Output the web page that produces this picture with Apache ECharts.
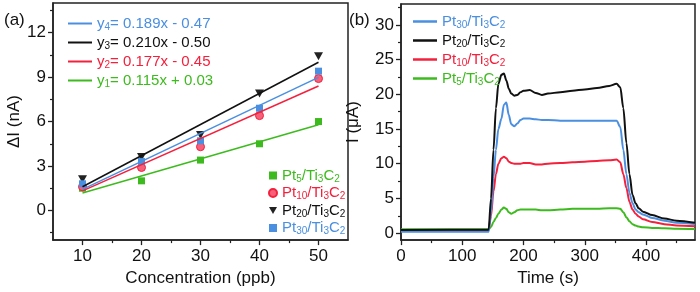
<!DOCTYPE html>
<html><head><meta charset="utf-8">
<script src="https://cdn.jsdelivr.net/npm/echarts@6/dist/echarts.min.js"></script>
<style>html,body{margin:0;padding:0;background:#fff}#c{width:700px;height:292px}</style>
</head><body><div id="c"></div>
<script>
// ---- Panel (a) data ----
var concentration = [10, 20, 30, 40, 50];
var pt5 = [1.5, 2.0, 3.4, 4.5, 6.0];
var pt10 = [1.6, 2.9, 4.3, 6.4, 8.9];
var pt20 = [2.1, 3.6, 5.1, 7.9, 10.4];
var pt30 = [1.8, 3.3, 4.7, 6.9, 9.4];
var fitX = [10, 50];
var fit5 = [1.18, 5.78];
var fit10 = [1.32, 8.40];
var fit20 = [1.60, 10.00];
var fit30 = [1.42, 8.98];
var equations = {
  fit30: ['4', '= 0.189x - 0.47'],
  fit20: ['3', '= 0.210x - 0.50'],
  fit10: ['2', '= 0.177x - 0.45'],
  fit5: ['1', '= 0.115x + 0.03']
};
var xTicksA = [10, 20, 30, 40, 50];
var xMinorA = [15, 25, 35, 45];
var yTicksA = [0, 3, 6, 9, 12];
var yMinorA = [-1.5, 1.5, 4.5, 7.5, 10.5, 13.5];

// ---- Panel (b) data ----
var time = [0, 143, 147, 151, 155, 159, 164, 168, 172, 176, 180, 185, 190, 195, 200, 210, 220, 230, 240, 260, 280, 300, 320, 340, 352, 358, 363, 368, 373, 378, 383, 388, 395, 410, 430, 450, 480];
var iPt20 = [0.45, 0.5, 5, 12, 18, 21.5, 22.8, 23.0, 22.0, 20.8, 20.1, 19.8, 19.9, 20.3, 20.5, 20.6, 20.2, 19.9, 20.1, 20.3, 20.5, 20.7, 20.9, 21.2, 21.5, 21.0, 18, 13, 8.5, 5.5, 4.3, 3.6, 3.1, 2.6, 2.1, 1.8, 1.5];
var iPt30 = [0.2, 0.2, 3, 8, 12, 15, 16.5, 18.5, 18.8, 17.0, 15.7, 15.4, 15.8, 16.3, 16.5, 16.5, 16.4, 16.3, 16.3, 16.2, 16.2, 16.2, 16.2, 16.2, 16.2, 15.3, 12, 8.5, 5.8, 4.3, 3.4, 3.0, 2.7, 2.2, 1.8, 1.5, 1.3];
var iPt10 = [0.35, 0.35, 2.5, 6, 8.5, 10, 10.8, 11.0, 10.8, 10.3, 10.1, 10.0, 10.0, 10.0, 10.1, 10.1, 9.9, 9.9, 10.0, 10.1, 10.2, 10.3, 10.4, 10.5, 10.6, 10.2, 8.5, 6.5, 4.5, 3.4, 2.8, 2.4, 2.0, 1.6, 1.3, 1.1, 1.0];
var iPt5 = [0.55, 0.55, 0.9, 1.6, 2.2, 2.8, 3.4, 3.7, 3.5, 3.0, 2.8, 3.0, 3.3, 3.4, 3.4, 3.4, 3.4, 3.3, 3.3, 3.4, 3.5, 3.5, 3.5, 3.6, 3.6, 3.5, 3.0, 2.3, 1.7, 1.3, 1.1, 0.95, 0.85, 0.75, 0.7, 0.65, 0.6];
var xTicksB = [0, 100, 200, 300, 400];
var xMinorB = [50, 150, 250, 350, 450];
var yTicksB = [0, 5, 10, 15, 20, 25, 30];
var yMinorB = [2.5, 7.5, 12.5, 17.5, 22.5, 27.5, 32.5];

var C = { g: '#3dbb1e', r: '#f4203c', k: '#111111', b: '#4a8fe0' };
var FONT = 'Liberation Sans, Arial, sans-serif';
var TRI_DOWN = 'path://M0,0 L10,0 L5,9 Z';

function pair(xs, ys) { return xs.map(function (x, i) { return [x, ys[i]]; }); }

var rich = {};
Object.keys(C).forEach(function (k) {
  rich[k + 'n'] = { color: C[k], fontSize: 15, fontFamily: FONT };
  rich[k + 's'] = { color: C[k], fontSize: 10, fontFamily: FONT, verticalAlign: 'bottom', padding: [7, 0, 0, 0] };
});
function ptLabel(c, n) {
  return '{' + c + 'n|Pt}{' + c + 's|' + n + '}{' + c + 'n|/Ti}{' + c + 's|3}{' + c + 'n|C}{' + c + 's|2}';
}
var nameMap = {
  s5: ['g', '5'], s10: ['r', '10'], s20: ['k', '20'], s30: ['b', '30'],
  t5: ['g', '5'], t10: ['r', '10'], t20: ['k', '20'], t30: ['b', '30']
};
var fitColor = { fit5: 'g', fit10: 'r', fit20: 'k', fit30: 'b' };

function axisBase(gridIndex, min, max, ticks, margin, extra) {
  var o = {
    type: 'value', gridIndex: gridIndex, min: min, max: max,
    axisLine: { show: true, onZero: false, lineStyle: { color: '#222', width: 1.5 } },
    axisTick: { show: true, inside: false, length: 5, customValues: ticks, lineStyle: { color: '#222', width: 1.3 } },
    axisLabel: { customValues: ticks, color: '#111', fontSize: 17, fontFamily: FONT, margin: margin },
    splitLine: { show: false }
  };
  for (var k in extra) o[k] = extra[k];
  return o;
}
function minorAxis(gridIndex, min, max, ticks, pos) {
  return {
    type: 'value', gridIndex: gridIndex, min: min, max: max, position: pos,
    axisLine: { show: false, onZero: false },
    axisTick: { show: true, inside: false, length: 3, customValues: ticks, lineStyle: { color: '#222', width: 1.2 } },
    axisLabel: { show: false }, splitLine: { show: false }
  };
}

var nameStyle = { color: '#111', fontSize: 17, fontFamily: FONT };

var option = {
  backgroundColor: '#fff',
  animation: false,
  grid: [
    { left: 53, right: 352, top: 3, bottom: 49, show: true, borderColor: '#222', borderWidth: 1.5, backgroundColor: 'transparent' },
    { left: 401, right: 5, top: 4, bottom: 49, show: true, borderColor: '#222', borderWidth: 1.5, backgroundColor: 'transparent' }
  ],
  xAxis: [
    axisBase(0, 5, 55, xTicksA, 8, { position: 'bottom', name: 'Concentration (ppb)', nameLocation: 'middle', nameGap: 29, nameTextStyle: nameStyle }),
    minorAxis(0, 5, 55, xMinorA, 'bottom'),
    axisBase(1, 0, 480, xTicksB, 8, { position: 'bottom', name: 'Time (s)', nameLocation: 'middle', nameGap: 29, nameTextStyle: nameStyle }),
    minorAxis(1, 0, 480, xMinorB, 'bottom')
  ],
  yAxis: [
    axisBase(0, -2, 14, yTicksA, 7, { position: 'left', name: 'ΔI (nA)', nameLocation: 'middle', nameGap: 28, nameTextStyle: nameStyle }),
    minorAxis(0, -2, 14, yMinorA, 'left'),
    axisBase(1, -1, 33, yTicksB, 7, { position: 'left', name: 'I (μA)', nameLocation: 'middle', nameGap: 39, nameTextStyle: nameStyle }),
    minorAxis(1, -1, 33, yMinorB, 'left')
  ],
  legend: [
    {
      orient: 'vertical', left: 63, top: 11, itemWidth: 24, itemHeight: 2, itemGap: 3, icon: 'rect',
      data: ['fit30', 'fit20', 'fit10', 'fit5'],
      textStyle: { fontSize: 15, fontFamily: FONT, rich: rich },
      formatter: function (n) {
        var c = fitColor[n], e = equations[n];
        return '{' + c + 'n|y}{' + c + 's|' + e[0] + '}{' + c + 'n|' + e[1] + '}';
      }
    },
    {
      orient: 'vertical', left: 263, top: 163, itemWidth: 8, itemHeight: 8, itemGap: 1.5,
      data: [{ name: 's5' }, { name: 's10' }, { name: 's20', icon: TRI_DOWN }, { name: 's30' }],
      textStyle: { fontSize: 15, fontFamily: FONT, rich: rich },
      formatter: function (n) { var m = nameMap[n]; return ptLabel(m[0], m[1]); }
    },
    {
      orient: 'vertical', left: 408, top: 9, itemWidth: 24, itemHeight: 2.5, itemGap: 3, icon: 'rect',
      data: ['t30', 't20', 't10', 't5'],
      textStyle: { fontSize: 15, fontFamily: FONT, rich: rich },
      formatter: function (n) { var m = nameMap[n]; return ptLabel(m[0], m[1]); }
    }
  ],
  graphic: [
    { type: 'text', left: 4, top: 12, style: { text: '(a)', fontSize: 17, fontFamily: FONT, fill: '#111' } },
    { type: 'text', left: 349, top: 12, style: { text: '(b)', fontSize: 17, fontFamily: FONT, fill: '#111' } }
  ],
  series: [
    { name: 'fit5', type: 'line', xAxisIndex: 0, yAxisIndex: 0, showSymbol: false, data: pair(fitX, fit5), lineStyle: { color: C.g, width: 1.5 }, itemStyle: { color: C.g } },
    { name: 'fit10', type: 'line', xAxisIndex: 0, yAxisIndex: 0, showSymbol: false, data: pair(fitX, fit10), lineStyle: { color: C.r, width: 1.5 }, itemStyle: { color: C.r } },
    { name: 'fit20', type: 'line', xAxisIndex: 0, yAxisIndex: 0, showSymbol: false, data: pair(fitX, fit20), lineStyle: { color: C.k, width: 1.5 }, itemStyle: { color: C.k } },
    { name: 'fit30', type: 'line', xAxisIndex: 0, yAxisIndex: 0, showSymbol: false, data: pair(fitX, fit30), lineStyle: { color: C.b, width: 1.5 }, itemStyle: { color: C.b } },
    { name: 's5', type: 'scatter', xAxisIndex: 0, yAxisIndex: 0, symbol: 'rect', symbolSize: 7, data: pair(concentration, pt5), itemStyle: { color: C.g, opacity: 1 } },
    { name: 's10', type: 'scatter', xAxisIndex: 0, yAxisIndex: 0, symbol: 'circle', symbolSize: 8, data: pair(concentration, pt10), itemStyle: { color: '#f6607a', borderColor: C.r, borderWidth: 1, opacity: 1 } },
    { name: 's20', type: 'scatter', xAxisIndex: 0, yAxisIndex: 0, symbol: TRI_DOWN, symbolSize: [9, 8], data: pair(concentration, pt20), itemStyle: { color: '#222', opacity: 1 } },
    { name: 's30', type: 'scatter', xAxisIndex: 0, yAxisIndex: 0, symbol: 'rect', symbolSize: 7, data: pair(concentration, pt30), itemStyle: { color: C.b, opacity: 1 } },
    { name: 't5', type: 'line', xAxisIndex: 2, yAxisIndex: 2, showSymbol: false, smooth: 0.3, smoothMonotone: 'x', data: pair(time, iPt5), lineStyle: { color: C.g, width: 2 }, itemStyle: { color: C.g } },
    { name: 't10', type: 'line', xAxisIndex: 2, yAxisIndex: 2, showSymbol: false, smooth: 0.3, smoothMonotone: 'x', data: pair(time, iPt10), lineStyle: { color: C.r, width: 2 }, itemStyle: { color: C.r } },
    { name: 't30', type: 'line', xAxisIndex: 2, yAxisIndex: 2, showSymbol: false, smooth: 0.3, smoothMonotone: 'x', data: pair(time, iPt30), lineStyle: { color: C.b, width: 2 }, itemStyle: { color: C.b } },
    { name: 't20', type: 'line', xAxisIndex: 2, yAxisIndex: 2, showSymbol: false, smooth: 0.3, smoothMonotone: 'x', data: pair(time, iPt20), lineStyle: { color: C.k, width: 2 }, itemStyle: { color: C.k } }
  ]
};
var chart = echarts.init(document.getElementById('c'), null, { renderer: 'canvas' });
chart.setOption(option);
</script></body></html>
